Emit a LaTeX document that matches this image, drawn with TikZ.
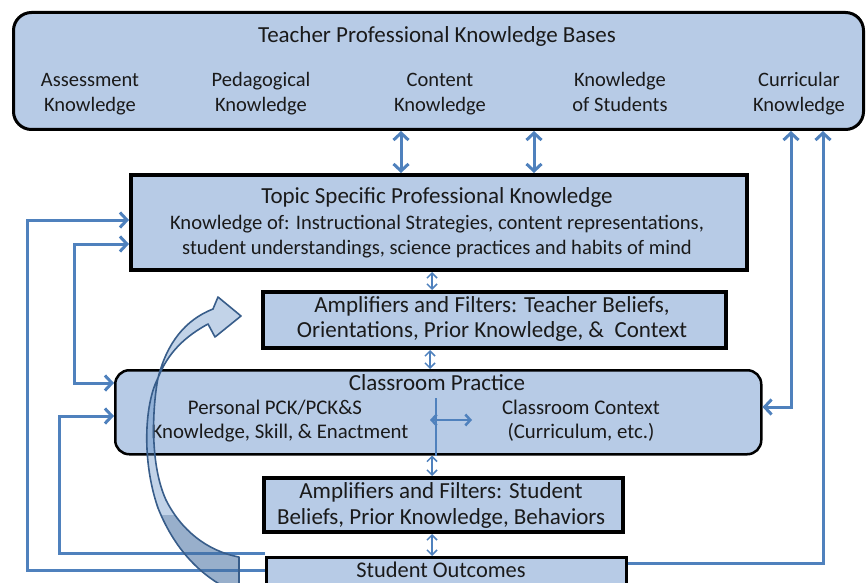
\documentclass[tikz,border=0pt]{standalone}
\usepackage{fontspec}
\setmainfont{Carlito}
\usetikzlibrary{arrows.meta}
\definecolor{boxblue}{HTML}{B7CBE6}
\definecolor{lineblue}{HTML}{4F81BD}
\definecolor{darkblue}{HTML}{385D8A}
\definecolor{txt}{HTML}{1A1A1A}
\newcommand{\fs}[1]{\fontsize{#1}{1.22\dimexpr #1pt\relax}\selectfont}
\begin{document}
\begin{tikzpicture}[x=1pt,y=-1pt,
  box/.style={draw=black, fill=boxblue, inner sep=0pt, anchor=north west},
  lbl/.style={text=txt, inner sep=0pt, align=center, text height=14pt, text depth=4.5pt},
  conn/.style={draw=lineblue, line width=3pt},
  small/.style={draw=lineblue, line width=1.5pt, {Straight Barb[length=5pt,width=10pt]}-{Straight Barb[length=5pt,width=10pt]}},
  >={Straight Barb[length=7pt,width=15pt]}]
\useasboundingbox (0,0) rectangle (867,583);
\clip (0,0) rectangle (867,583);

% boxes
\node[box, rounded corners=18pt, line width=3pt, minimum width=850pt, minimum height=117pt] (kb) at (12,11) {};
\node[box, line width=4pt, minimum width=616pt, minimum height=95pt] (tsk) at (129,173) {};
\node[box, line width=4pt, minimum width=463pt, minimum height=56pt] (ampT) at (261,290) {};
\node[box, rounded corners=14pt, line width=2.5pt, minimum width=646pt, minimum height=84pt] (cp) at (114,369) {};
\node[box, line width=4pt, minimum width=359pt, minimum height=54pt] (ampS) at (262,476) {};
\node[box, line width=3pt, minimum width=360pt, minimum height=50pt] (so) at (265,556) {};

% texts
\node[lbl, font=\fs{23}, text height=16pt, text depth=5pt] (kbt) at (437,37) {Teacher Professional Knowledge Bases};
\node[lbl, font=\fs{20.5}] (k1) at (90,82) {Assessment};
\node[lbl, font=\fs{20.5}] (k1b) at (90,107) {Knowledge};
\node[lbl, font=\fs{20.5}] (k2) at (261,82) {Pedagogical};
\node[lbl, font=\fs{20.5}] (k2b) at (261,107) {Knowledge};
\node[lbl, font=\fs{20.5}] (k3) at (440,82) {Content};
\node[lbl, font=\fs{20.5}] (k3b) at (440,107) {Knowledge};
\node[lbl, font=\fs{20.5}] (k4) at (620,82) {Knowledge};
\node[lbl, font=\fs{20.5}] (k4b) at (620,107) {of Students};
\node[lbl, font=\fs{20.5}] (k5) at (799,82) {Curricular};
\node[lbl, font=\fs{20.5}] (k5b) at (799,107) {Knowledge};

\node[lbl, font=\fs{23}, text height=16pt, text depth=5pt] (tskt) at (437,198) {Topic Specific Professional Knowledge};
\node[lbl, font=\fs{20.6}] (tsk1) at (437,225) {Knowledge of: Instructional Strategies, content representations,};
\node[lbl, font=\fs{20.6}] (tsk2) at (437,250) {student understandings, science practices and habits of mind};

\node[lbl, font=\fs{23}, text height=16pt, text depth=5pt] (aT1) at (492,307) {Amplifiers and Filters: Teacher Beliefs,};
\node[lbl, font=\fs{23}, text height=16pt, text depth=5pt] (aT2) at (492,332) {Orientations, Prior Knowledge, \&\ \ Context};

\node[lbl, font=\fs{23}, text height=16pt, text depth=5pt] (cpt) at (437,385) {Classroom Practice};
\node[lbl, font=\fs{20.8}] (cp1) at (275,410) {Personal PCK/PCK\&S};
\node[lbl, font=\fs{20.8}] (cp2) at (280,434) {Knowledge, Skill, \& Enactment};
\node[lbl, font=\fs{20.8}] (cp3) at (581,410) {Classroom Context};
\node[lbl, font=\fs{20.8}] (cp4) at (581,434) {(Curriculum, etc.)};

\node[lbl, font=\fs{23}, text height=16pt, text depth=5pt] (aS1) at (441,493) {Amplifiers and Filters: Student};
\node[lbl, font=\fs{23}, text height=16pt, text depth=5pt] (aS2) at (441,519) {Beliefs, Prior Knowledge, Behaviors};

\node[lbl, font=\fs{22.4}, text height=16pt, text depth=5pt] (sot) at (441,572) {Student Outcomes};

% helper coordinates
\coordinate (x401) at (401,0);
\coordinate (x534) at (534,0);
\coordinate (x432) at (432,0);
\coordinate (x430) at (430,0);
\coordinate (r1) at (791,407);
\coordinate (r2) at (823,563);
\coordinate (l1a) at (27,570);
\coordinate (l1b) at (27,220);
\coordinate (l2a) at (74,244);
\coordinate (l2b) at (74,383);
\coordinate (l3a) at (59,553);
\coordinate (l3b) at (59,416);
\coordinate (v1) at (436,398);
\coordinate (h1) at (430,420);
\coordinate (h2) at (472,420);

% connectors
\draw[conn,<->] (kb.south -| x401) -- (tsk.north -| x401);
\draw[conn,<->] (kb.south -| x534) -- (tsk.north -| x534);
\draw[conn,<->] (cp.east |- r1) -- (r1) -- (r1 |- kb.south);
\draw[conn,->] (so.east |- r2) -- (r2) -- (r2 |- kb.south);
\draw[conn,->] (so.west |- l1a) -- (l1a) -- (l1b) -- (tsk.west |- l1b);
\draw[conn,<->] (tsk.west |- l2a) -- (l2a) -- (l2b) -- (cp.west |- l2b);
\draw[conn,->] (so.west |- l3a) -- (l3a) -- (l3b) -- (cp.west |- l3b);

\draw[small] (tsk.south -| x432) -- (ampT.north -| x432);
\draw[small] (ampT.south -| x430) -- (cp.north -| x430);
\draw[small] (cp.south -| x432) -- (ampS.north -| x432);
\draw[small] (ampS.south -| x432) -- (so.north -| x432);

\draw[lineblue, line width=1.2pt] (v1) -- (cp.south -| v1);
\draw[lineblue, line width=2.5pt, {Straight Barb[length=5pt,width=11pt]}-{Straight Barb[length=5pt,width=11pt]}] (h1) -- (h2);

% big curved arrow
\coordinate (T) at (241,316);
\coordinate (B1) at (218,297);
\coordinate (B2) at (215,337);
\coordinate (U) at (213,309);
\coordinate (L) at (208,324);
\coordinate (X) at (158,378);
\coordinate (TT) at (239,557);
\coordinate (TB) at (239,594);
\path[fill=lineblue, fill opacity=0.35, draw=darkblue, line width=1.6pt, line join=round]
  (T) -- (B1) -- (U) .. controls (185,320) and (167,343) .. (X)
  .. controls (152,410) and (150,465) .. (166,500) .. controls (181,530) and (207,551) .. (TT)
  -- (TB) .. controls (205,580) and (176,553) .. (158,508) .. controls (142,462) and (144,405) .. (X)
  .. controls (168,352) and (186,336) .. (L) -- (B2) -- cycle;
\begin{scope}
\clip (X) .. controls (152,410) and (150,465) .. (166,500) .. controls (181,530) and (207,551) .. (TT)
  -- (TB) .. controls (205,580) and (176,553) .. (158,508) .. controls (142,462) and (144,405) .. (X) -- cycle;
\fill[darkblue, opacity=0.3] (140,515) rectangle (245,600);
\end{scope}
\end{tikzpicture}
\end{document}
